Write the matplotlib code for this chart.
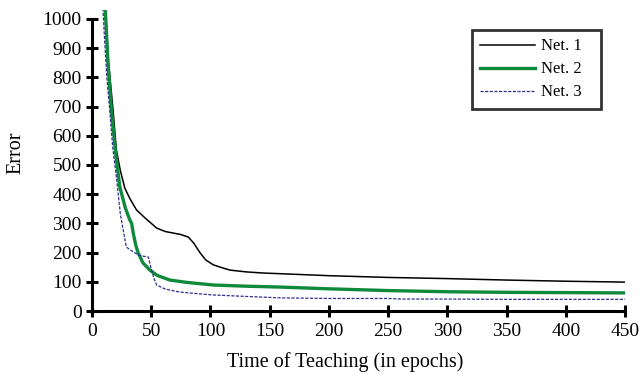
import matplotlib
matplotlib.use("Agg")
import matplotlib.pyplot as plt
import numpy as np

net1_x = [8, 11, 14, 17.8, 20.6, 24, 27.7, 32, 37.6, 45, 54.6, 62, 68.6, 75, 81.4, 86, 91.3, 96, 102.5, 110, 116.7, 130, 145, 170, 200, 250, 300, 350, 400, 450]
net1_y = [1400, 1050, 850, 688, 551, 480, 421, 385, 346, 318, 284, 272, 267, 262, 253, 232, 199, 175, 158, 148, 140, 134, 130, 126, 121, 115, 111, 106, 102, 99]

net2_x = [8, 11, 13.5, 16.4, 20, 23.5, 28, 31.9, 33.5, 34.8, 37, 39, 43, 48.9, 55, 65.8, 80, 102.5, 130, 159, 200, 250, 300, 350, 400, 450]
net2_y = [1400, 1050, 850, 688, 540, 425, 355, 312, 300, 267, 225, 199, 165, 140, 122, 106, 98, 89, 85, 82, 76, 70, 66, 64, 63, 62]

net3_x = [7, 9.3, 10.8, 12.5, 15, 17.5, 20.6, 24, 29, 34, 39, 43, 47.5, 50.3, 52.5, 54.6, 62, 74, 90, 102.5, 130, 159, 200, 250, 262, 300, 350, 400, 450]
net3_y = [1400, 1030, 918, 800, 688, 560, 459, 330, 219, 205, 192, 188, 185, 140, 110, 89, 75, 65, 59, 55, 50, 45, 43, 43, 41, 41, 40, 40, 40]

xticks = [0, 50, 100, 150, 200, 250, 300, 350, 400, 450]
yticks = [0, 100, 200, 300, 400, 500, 600, 700, 800, 900, 1000]
labels = ["Net. 1", "Net. 2", "Net. 3"]

plt.rcParams['font.family'] = ['Liberation Serif', 'DejaVu Serif']

fig = plt.figure(figsize=(6.41, 3.74), dpi=100)
ax = fig.add_axes([0.1435, 0.1684, 0.8315, 0.8043])

ax.plot(net1_x, net1_y, color='black', lw=1.1, label=labels[0])
ax.plot(net2_x, net2_y, color='#0f8a3c', lw=2.4, label=labels[1])
ax.plot(net3_x, net3_y, color='#2b2f8f', lw=0.9, ls=(0, (2.5, 1.2)), label=labels[2])

ax.set_xlim(0, 450)
ax.set_ylim(0, 1030)
ax.spines['top'].set_visible(False)
ax.spines['right'].set_visible(False)
ax.spines['left'].set_bounds(0, 1000)
ax.spines['left'].set_linewidth(2.2)
ax.spines['bottom'].set_linewidth(2.2)
ax.set_xticks(xticks)
ax.set_yticks(yticks)
ax.tick_params(direction='inout', length=9, width=2.2, labelsize=14, pad=3, colors='black')
ax.tick_params(axis='x', pad=4)
ax.set_xlabel("Time of Teaching (in epochs)", fontsize=14.5)
ax.set_ylabel("Error", fontsize=14.5)
ax.xaxis.set_label_coords(0.475, -0.135)
ax.yaxis.set_label_coords(-0.124, 0.525)

leg = ax.legend(loc='upper right', bbox_to_anchor=(0.713, 0.5, 0.242, 0.434), mode='expand',
                fontsize=12, frameon=True,
                fancybox=False, edgecolor='black', handlelength=3.3, borderpad=0.5,
                labelspacing=0.42, handletextpad=0.35, borderaxespad=0)
leg.get_frame().set_linewidth(2.0)

fig.savefig("out.png", dpi=100)
